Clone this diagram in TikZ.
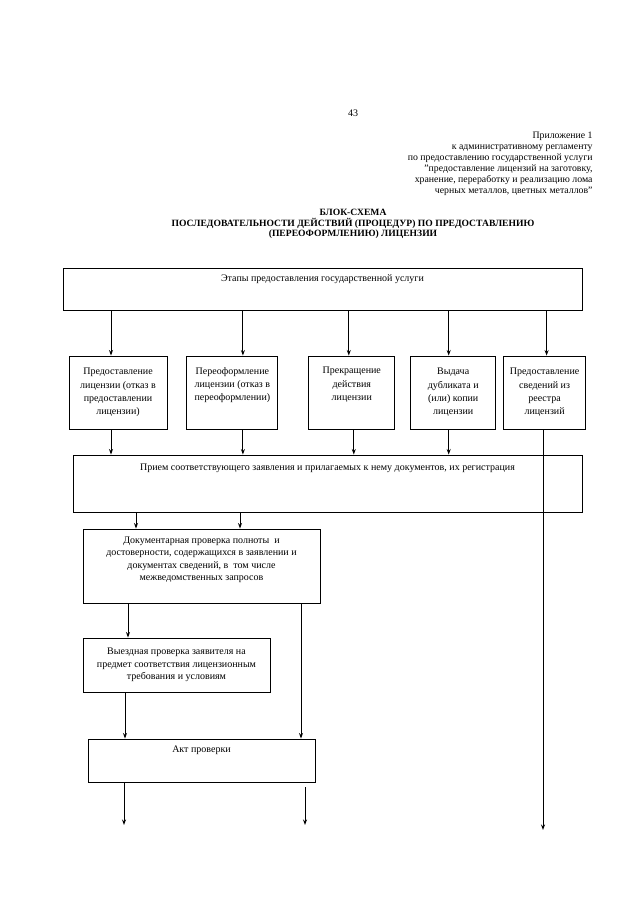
\documentclass[tikz,border=0pt]{standalone}
\usepackage{fontspec}
\setmainfont{Liberation Serif}
\usetikzlibrary{arrows.meta, positioning}

\begin{document}
\begin{tikzpicture}[x=1pt, y=1pt, >={Stealth[length=5.5pt, width=4pt]}, line width=0.9pt,
  stage/.style={rectangle, draw, minimum width=#1, minimum height=73pt, align=center, inner sep=2pt, font=\fontsize{10}{13.3}\selectfont},
  stage/.default=90pt,
  band/.style={rectangle, draw, minimum width=#1},
  caption/.style={anchor=north, font=\fontsize{10}{13}\selectfont},
  block/.style={rectangle, draw, align=center, font=\fontsize{10}{12.5}\selectfont}]
  \useasboundingbox (0,0) rectangle (639,-905);
  % header
  \node[font=\fontsize{10}{12}\selectfont] (page) at (353,-113) {43};
  \node[anchor=north east, align=right, inner sep=0pt, font=\fontsize{9.8}{11}\selectfont] (annex) at (593,-132)
    {Приложение 1\\к административному регламенту\\по предоставлению государственной услуги\\
     "предоставление лицензий на заготовку,\\хранение, переработку и реализацию лома\\черных металлов, цветных металлов"};
  \node[align=center, font=\bfseries\fontsize{9.6}{10.6}\selectfont] (title) at (353,-224)
    {БЛОК-СХЕМА\\ПОСЛЕДОВАТЕЛЬНОСТИ ДЕЙСТВИЙ (ПРОЦЕДУР) ПО ПРЕДОСТАВЛЕНИЮ\\(ПЕРЕОФОРМЛЕНИЮ) ЛИЦЕНЗИИ};
  % stages
  \node[band=519pt, minimum height=42pt, label={[caption, yshift=-3pt]north:Этапы предоставления государственной услуги}] (top) at (322.5,-289) {};
  \node[stage=98pt] (b1) at (118,-392.5) {Предоставление\\лицензии (отказ в\\предоставлении\\лицензии)};
  \node[stage=91pt, right=19pt of b1] (b2) {Переоформление\\лицензии (отказ в\\переоформлении)\\\strut};
  \node[stage=86pt, right=30pt of b2] (b3) {Прекращение\\действия\\лицензии\\\strut};
  \node[stage=85pt, right=15pt of b3] (b4) {Выдача\\дубликата и\\(или) копии\\лицензии};
  \node[stage=82pt, right=7pt of b4] (b5) {Предоставление\\сведений из\\реестра\\лицензий};
  \node[band=509pt, minimum height=57pt, label={[caption, yshift=-6pt]north:Прием соответствующего заявления и прилагаемых к нему документов, их регистрация}] (priem) at (327.5,-483.5) {};
  \node[block, minimum width=237pt, minimum height=74pt] (dok) at (201.5,-566)
    {Документарная проверка полноты\ \ и\\достоверности, содержащихся в заявлении и\\документах сведений, в\ \ том числе\\межведомственных запросов\\[2pt]};
  \node[block, minimum width=187pt, minimum height=54pt] (vyezd) at (176.5,-665)
    {Выездная проверка заявителя на\\предмет соответствия лицензионным\\требования и условиям};
  \node[band=227pt, minimum height=43pt, label={[caption, yshift=-4pt]north:Акт проверки}] (akt) at (201.5,-760.5) {};
  \coordinate (out5) at (543,-830);
  \coordinate (outL) at (124,-825);
  \coordinate (outR) at (305,-825);
  \coordinate (gapR) at (305,-787);
  % connectors
  \draw[->] ([xshift=-7pt]b1.north |- top.south) -- ([xshift=-7pt]b1.north);
  \draw[->] ([xshift=10.5pt]b2.north |- top.south) -- ([xshift=10.5pt]b2.north);
  \draw[->] ([xshift=-3pt]b3.north |- top.south) -- ([xshift=-3pt]b3.north);
  \draw[->] ([xshift=-4.5pt]b4.north |- top.south) -- ([xshift=-4.5pt]b4.north);
  \draw[->] ([xshift=2pt]b5.north |- top.south) -- ([xshift=2pt]b5.north);
  \draw[->] ([xshift=-7pt]b1.south) -- ([xshift=-7pt]b1.south |- priem.north);
  \draw[->] ([xshift=10.5pt]b2.south) -- ([xshift=10.5pt]b2.south |- priem.north);
  \draw[->] ([xshift=2pt]b3.south) -- ([xshift=2pt]b3.south |- priem.north);
  \draw[->] ([xshift=-4.5pt]b4.south) -- ([xshift=-4.5pt]b4.south |- priem.north);
  \draw[->] (b5.south -| out5) -- (out5);
  \draw[->] ([xshift=-65.5pt]dok.north |- priem.south) -- ([xshift=-65.5pt]dok.north);
  \draw[->] ([xshift=38.5pt]dok.north |- priem.south) -- ([xshift=38.5pt]dok.north);
  \draw[->] ([xshift=-48.5pt]vyezd.north |- dok.south) -- ([xshift=-48.5pt]vyezd.north);
  \draw[->] ([xshift=99.5pt]dok.south) -- ([xshift=99.5pt]akt.north);
  \draw[->] ([xshift=-76.5pt]akt.north |- vyezd.south) -- ([xshift=-76.5pt]akt.north);
  \draw[->] (akt.south -| outL) -- (outL);
  \draw[->] (gapR) -- (outR);
\end{tikzpicture}
\end{document}
